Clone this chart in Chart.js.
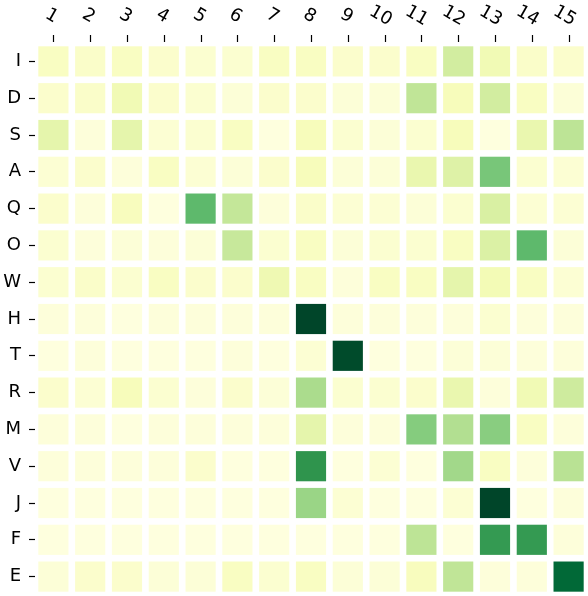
<!DOCTYPE html>
<html>
<head>
<meta charset="utf-8">
<script src="https://cdn.jsdelivr.net/npm/chart.js@4/dist/chart.umd.min.js"></script>
<style>
html,body{margin:0;padding:0;background:#fff;}
#wrap{width:588px;height:596px;}
</style>
</head>
<body>
<div id="wrap"><canvas id="c" width="588" height="596"></canvas></div>
<script>
const columns = ['1','2','3','4','5','6','7','8','9','10','11','12','13','14','15'];
const rows = ['I','D','S','A','Q','O','W','H','T','R','M','V','J','F','E'];

const rowI = [0.10,0.08,0.10,0.07,0.06,0.06,0.10,0.10,0.07,0.07,0.10,0.27,0.15,0.08,0.07];
const rowD = [0.07,0.08,0.15,0.07,0.06,0.04,0.07,0.07,0.04,0.04,0.32,0.12,0.27,0.10,0.04];
const rowS = [0.20,0.03,0.20,0.05,0.06,0.10,0.02,0.12,0.06,0.04,0.06,0.12,0.02,0.18,0.33];
const rowA = [0.05,0.07,0.03,0.10,0.05,0.04,0.07,0.12,0.04,0.04,0.18,0.23,0.50,0.06,0.05];
const rowQ = [0.07,0.03,0.11,0.02,0.56,0.31,0.03,0.08,0.05,0.05,0.04,0.06,0.25,0.05,0.05];
const rowO = [0.06,0.03,0.04,0.03,0.04,0.30,0.06,0.10,0.04,0.06,0.06,0.10,0.24,0.56,0.04];
const rowW = [0.06,0.08,0.06,0.10,0.07,0.07,0.16,0.10,0.03,0.10,0.10,0.20,0.14,0.10,0.05];
const rowH = [0.03,0.03,0.02,0.03,0.03,0.03,0.03,1.00,0.03,0.03,0.03,0.03,0.06,0.03,0.03];
const rowT = [0.02,0.03,0.02,0.02,0.02,0.03,0.02,0.05,0.98,0.02,0.02,0.04,0.04,0.03,0.03];
const rowR = [0.07,0.05,0.12,0.06,0.03,0.07,0.04,0.38,0.06,0.06,0.07,0.18,0.03,0.15,0.28];
const rowM = [0.03,0.03,0.02,0.03,0.03,0.03,0.03,0.20,0.03,0.03,0.47,0.36,0.46,0.10,0.03];
const rowV = [0.03,0.03,0.03,0.03,0.07,0.02,0.02,0.70,0.02,0.05,0.02,0.40,0.10,0.03,0.34];
const rowJ = [0.02,0.02,0.02,0.02,0.02,0.02,0.02,0.42,0.05,0.02,0.02,0.05,1.00,0.02,0.03];
const rowF = [0.02,0.02,0.02,0.02,0.02,0.02,0.02,0.02,0.02,0.02,0.33,0.02,0.68,0.68,0.03];
const rowE = [0.04,0.07,0.07,0.04,0.04,0.10,0.06,0.10,0.04,0.04,0.11,0.32,0.03,0.03,0.87];

const matrix = [rowI,rowD,rowS,rowA,rowQ,rowO,rowW,rowH,rowT,rowR,rowM,rowV,rowJ,rowF,rowE];

// YlGn colormap
const ylgn = ['#ffffe5','#f7fcb9','#d9f0a3','#addd8e','#78c679','#41ab5d','#238443','#006837','#004529'];
function hex2rgb(h){return [parseInt(h.substr(1,2),16),parseInt(h.substr(3,2),16),parseInt(h.substr(5,2),16)];}
const stops = ylgn.map(hex2rgb);
function cmap(v){
  v = Math.max(0, Math.min(1, v));
  const p = v*(stops.length-1);
  const i = Math.min(Math.floor(p), stops.length-2);
  const t = p - i;
  const a = stops[i], b = stops[i+1];
  const c = a.map((x,k)=>Math.round(x + (b[k]-x)*t));
  return 'rgb('+c.join(',')+')';
}

const HALF = 0.41;
const datasets = rows.map((r, ri) => ({
  label: r,
  data: matrix[ri].map(() => [ri - HALF, ri + HALF]),
  backgroundColor: matrix[ri].map(cmap),
  borderWidth: 0,
  grouped: false,
  barPercentage: 0.82,
  categoryPercentage: 1.0
}));

const topLabels = {
  id: 'topLabels',
  afterDraw(chart){
    const ctx = chart.ctx;
    const xs = chart.scales.x;
    ctx.save();
    ctx.strokeStyle = '#000';
    ctx.lineWidth = 1.2;
    ctx.fillStyle = '#000';
    ctx.font = '18px "DejaVu Sans"';
    ctx.textAlign = 'center';
    ctx.textBaseline = 'middle';
    columns.forEach((c, i) => {
      const x = Math.round(xs.getPixelForValue(i)) + 0.5;
      ctx.beginPath();
      ctx.moveTo(x, 35);
      ctx.lineTo(x, 42);
      ctx.stroke();
      ctx.save();
      ctx.translate(x - 2 - (c.length - 1) * 3, 16);
      ctx.rotate(30 * Math.PI / 180);
      ctx.fillText(c, 0, 0);
      ctx.restore();
    });
    ctx.restore();
  }
};

new Chart(document.getElementById('c'), {
  type: 'bar',
  data: { labels: columns, datasets },
  options: {
    responsive: false,
    animation: false,
    layout: { padding: { top: 43, right: 1, bottom: 1, left: 0 } },
    plugins: { legend: { display: false }, tooltip: { enabled: false } },
    scales: {
      x: { display: false, offset: true },
      y: {
        type: 'linear',
        min: -0.5,
        max: 14.5,
        reverse: true,
        afterFit(scale){ scale.width = 35; scale.paddingTop = 0; scale.paddingBottom = 0; },
        afterBuildTicks(scale){ scale.ticks = rows.map((_, i) => ({ value: i })); },
        ticks: {
          callback: (v) => rows[v],
          color: '#000',
          font: { family: 'DejaVu Sans', size: 18 },
          padding: 8,
          autoSkip: false
        },
        grid: { drawOnChartArea: false, drawTicks: true, tickLength: 6, color: '#000', tickWidth: 1.2 },
        border: { display: false }
      }
    }
  },
  plugins: [topLabels]
});
</script>
</body>
</html>
